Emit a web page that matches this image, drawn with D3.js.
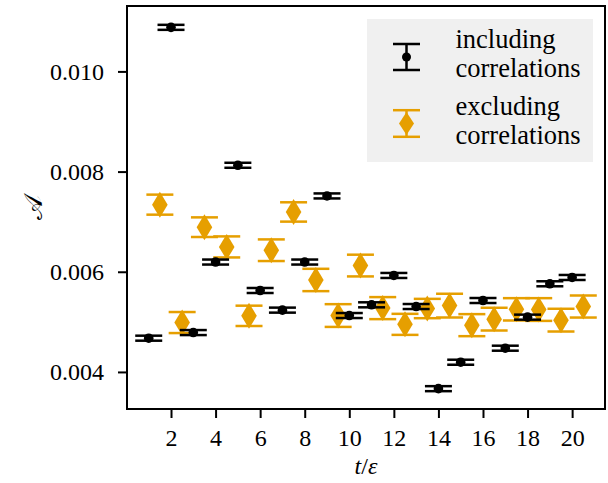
<!DOCTYPE html>
<html>
<head>
<meta charset="utf-8">
<script src="https://cdn.jsdelivr.net/npm/d3@7/dist/d3.min.js"></script>
<style>
  html, body { margin: 0; padding: 0; background: #ffffff; }
  svg { display: block; }
</style>
</head>
<body>
<svg id="chart" width="608" height="483"></svg>
<script>
// ---- data ----
const tIncl = [1,2,3,4,5,6,7,8,9,10,11,12,13,14,15,16,17,18,19,20];
const aIncl = [0.004674,0.01088,0.004786,0.006194,0.008126,0.005626,0.005234,0.006194,0.007514,0.005126,
               0.00534,0.005926,0.005306,0.003666,0.004194,0.005426,0.004474,0.005094,0.00576,0.005886];
const eIncl = [0.00005,0.00005,0.00005,0.00005,0.00005,0.00005,0.00005,0.00005,0.00005,0.00005,
               0.00005,0.00005,0.00005,0.00005,0.00005,0.00005,0.00005,0.00005,0.00005,0.00005];
const tExcl = [1.5,2.5,3.5,4.5,5.5,6.5,7.5,8.5,9.5,10.5,11.5,12.5,13.5,14.5,15.5,16.5,17.5,18.5,19.5,20.5];
const aExcl = [0.00734,0.004986,0.00689,0.006496,0.00512,0.00643,0.007194,0.005836,0.005126,0.006124,
               0.005274,0.00495,0.005266,0.005324,0.004934,0.005054,0.00525,0.005246,0.005034,0.005306];
const eExcl = [0.0002,0.00021,0.000196,0.00021,0.000203,0.000216,0.000193,0.000223,0.000227,0.000217,
               0.00022,0.00021,0.000193,0.000237,0.00022,0.000227,0.000223,0.000227,0.000227,0.00022];
const xTicks = [2,4,6,8,10,12,14,16,18,20];
const yTicks = [0.004,0.006,0.008,0.010];
const legendLabels = [["including","correlations"],["excluding","correlations"]];
const colIncl = "#000000";
const colExcl = "#E69F00";

// ---- pick an installed serif font ----
function hasFont(name) {
  const c = document.createElement("canvas").getContext("2d");
  const s = "correlations 0.010 abcdefghijklmnopqrstuvwxyz";
  return ["monospace", "sans-serif", "serif"].some(base => {
    c.font = `40px ${base}`;
    const w0 = c.measureText(s).width;
    c.font = `40px "${name}", ${base}`;
    return c.measureText(s).width !== w0;
  });
}
const serifCandidates = ["Liberation Serif", "Tinos", "Times New Roman", "Nimbus Roman", "Nimbus Roman No9 L", "DejaVu Serif", "Noto Serif"];
const serifName = serifCandidates.find(hasFont);
const FONT = serifName ? `"${serifName}", serif` : "serif";

// ---- layout ----
const L = 127, R = 605, T = 6, B = 409;
const svg = d3.select("#chart");

const x = d3.scaleLinear().domain([0.025, 21.475]).range([L, R]);
const y = d3.scaleLinear().domain([0.00326, 0.011306]).range([B, T]);

// axes
const xAxis = d3.axisBottom(x).tickValues(xTicks).tickFormat(d3.format("d")).tickSize(9).tickPadding(10);
const yAxis = d3.axisLeft(y).tickValues(yTicks).tickFormat(d3.format(".3f")).tickSize(9).tickPadding(14);

const gx = svg.append("g").attr("transform", `translate(0,${B})`).call(xAxis);
const gy = svg.append("g").attr("transform", `translate(${L},0)`).call(yAxis);
[gx, gy].forEach(g => {
  g.attr("font-family", FONT).attr("font-size", 24);
  g.select(".domain").remove();
  g.selectAll(".tick line").attr("stroke", "#000").attr("stroke-width", 2);
  g.selectAll(".tick text").attr("fill", "#000");
});
gy.selectAll(".tick text").attr("dy", "0.33em");
gx.selectAll(".tick text").attr("dy", "0.75em");

// series
const capHalf = 13.5;
function drawSeries(ts, as, es, color, marker) {
  const g = svg.append("g");
  const data = ts.map((t, i) => ({t, a: as[i], e: es[i]}));
  const pt = g.selectAll("g.pt").data(data).enter().append("g").attr("class", "pt");
  pt.append("line")
    .attr("x1", d => x(d.t)).attr("x2", d => x(d.t))
    .attr("y1", d => y(d.a - d.e)).attr("y2", d => y(d.a + d.e))
    .attr("stroke", color).attr("stroke-width", 2.5);
  [-1, 1].forEach(s => {
    pt.append("line")
      .attr("x1", d => x(d.t) - capHalf).attr("x2", d => x(d.t) + capHalf)
      .attr("y1", d => y(d.a + s * d.e)).attr("y2", d => y(d.a + s * d.e))
      .attr("stroke", color).attr("stroke-width", 2.5);
  });
  if (marker === "circle") {
    pt.append("circle").attr("cx", d => x(d.t)).attr("cy", d => y(d.a)).attr("r", 4.8).attr("fill", color);
  } else {
    pt.append("path")
      .attr("d", d => {
        const cx = x(d.t), cy = y(d.a), hw = 7.8, hh = 13;
        return `M${cx},${cy - hh}L${cx + hw},${cy}L${cx},${cy + hh}L${cx - hw},${cy}Z`;
      })
      .attr("fill", color);
  }
}
drawSeries(tExcl, aExcl, eExcl, colExcl, "diamond");
drawSeries(tIncl, aIncl, eIncl, colIncl, "circle");

// frame
svg.append("rect").attr("x", L).attr("y", T).attr("width", R - L).attr("height", B - T)
  .attr("fill", "none").attr("stroke", "#000").attr("stroke-width", 2);

// legend
const lg = svg.append("g").attr("font-family", FONT);
lg.append("rect").attr("x", 367).attr("y", 19).attr("width", 226).attr("height", 143).attr("fill", "#f0f0f0");
const legendItems = [
  {color: colIncl, marker: "circle", cy: 57, capH: 13, base: 48},
  {color: colExcl, marker: "diamond", cy: 123.5, capH: 13.3, base: 115}
];
legendItems.forEach((it, i) => {
  const hx = 406.5;
  lg.append("line").attr("x1", hx).attr("x2", hx).attr("y1", it.cy - it.capH).attr("y2", it.cy + it.capH)
    .attr("stroke", it.color).attr("stroke-width", 2.5);
  [-1, 1].forEach(s => {
    lg.append("line").attr("x1", hx - capHalf).attr("x2", hx + capHalf)
      .attr("y1", it.cy + s * it.capH).attr("y2", it.cy + s * it.capH)
      .attr("stroke", it.color).attr("stroke-width", 2.5);
  });
  if (it.marker === "circle") {
    lg.append("circle").attr("cx", hx).attr("cy", it.cy).attr("r", 4.5).attr("fill", it.color);
  } else {
    lg.append("path").attr("d", `M${hx},${it.cy - 11.5}L${hx + 7.5},${it.cy}L${hx},${it.cy + 11.5}L${hx - 7.5},${it.cy}Z`)
      .attr("fill", it.color);
  }
  const tx = lg.append("text").attr("x", 455.5).attr("y", it.base)
    .attr("font-size", 26.5).attr("fill", "#000");
  legendLabels[i].forEach((s, j) => {
    tx.append("tspan").attr("x", 455.5).attr("y", it.base + j * 29).text(s);
  });
});

// axis labels
const xl = svg.append("text").attr("x", 366).attr("y", 474).attr("text-anchor", "middle")
  .attr("font-family", FONT).attr("font-size", 24).attr("fill", "#000");
xl.append("tspan").attr("font-style", "italic").text("t");
xl.append("tspan").text("/");
xl.append("tspan").attr("font-style", "italic").text("ε");

svg.append("text").attr("transform", `translate(42,${(T + B) / 2}) rotate(-90)`)
  .attr("text-anchor", "middle").attr("font-size", 26).attr("fill", "#000")
  .attr("font-family", '"DejaVu Serif", serif')
  .text("𝒜");
</script>
</body>
</html>
